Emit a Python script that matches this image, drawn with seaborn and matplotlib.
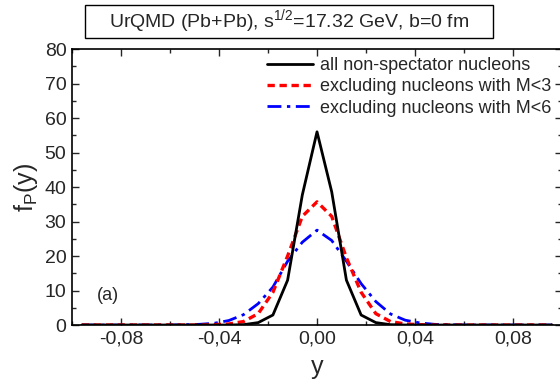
import matplotlib
matplotlib.use("Agg")
import matplotlib.pyplot as plt
from matplotlib.patches import Rectangle
from matplotlib.ticker import MultipleLocator, FuncFormatter
import seaborn as sns
import pandas as pd

# rapidity grid and distributions
y_vals = [-0.096, -0.090, -0.084, -0.078, -0.072, -0.066, -0.060, -0.054, -0.048,
          -0.042, -0.036, -0.030, -0.024, -0.018, -0.012, -0.006, 0.000,
          0.006, 0.012, 0.018, 0.024, 0.030, 0.036, 0.042, 0.048,
          0.054, 0.060, 0.066, 0.072, 0.078, 0.084, 0.090, 0.096]
f_all = [0, 0, 0, 0, 0, 0, 0, 0, 0,
         0, 0, 0.1, 0.7, 2.9, 13.0, 37.7, 56.0,
         38.6, 13.0, 2.9, 0.7, 0.1, 0, 0, 0,
         0, 0, 0, 0, 0, 0, 0, 0]
f_m3 = [0, 0, 0, 0, 0, 0, 0, 0, 0,
        0.1, 0.3, 1.0, 3.3, 9.5, 20.0, 31.5, 35.7,
        31.5, 19.5, 9.5, 3.3, 1.0, 0.3, 0.1, 0,
        0, 0, 0, 0, 0, 0, 0, 0]
f_m6 = [0, 0, 0, 0, 0, 0, 0, 0.1, 0.2,
        0.5, 1.3, 3.0, 6.2, 11.0, 18.5, 24.0, 27.5,
        24.5, 18.5, 12.0, 6.8, 3.2, 1.4, 0.6, 0.2,
        0.1, 0, 0, 0, 0, 0, 0, 0]
labels = ["all non-spectator nucleons",
          "excluding nucleons with M<3",
          "excluding nucleons with M<6"]

df = pd.DataFrame({"y": y_vals, "all": f_all, "m3": f_m3, "m6": f_m6})

sns.set_style("ticks")
plt.rcParams["font.family"] = ["Liberation Sans", "DejaVu Sans"]

fig = plt.figure(figsize=(5.6, 3.8), dpi=100)
ax = fig.add_axes([0.1286, 0.1447, 0.875, 0.7263])

sns.lineplot(data=df, x="y", y="m6", ax=ax, color="#0000ff", lw=2,
             linestyle=(0, (5, 2, 1.2, 2)), zorder=2)
sns.lineplot(data=df, x="y", y="m3", ax=ax, color="#ff0000", lw=2.4,
             linestyle=(0, (2.2, 1.4)), zorder=3)
sns.lineplot(data=df, x="y", y="all", ax=ax, color="black", lw=2, zorder=4)

lines = ax.get_lines()
handles = [lines[2], lines[1], lines[0]]
ax.legend(handles, labels, loc="upper right", bbox_to_anchor=(1.0, 1.01),
          frameon=False, fontsize=13, handlelength=2.5, handletextpad=0.4,
          labelspacing=0.24, borderaxespad=0.2)

ax.set_xlim(-0.1, 0.1)
ax.set_ylim(0, 80)
ax.xaxis.set_major_locator(MultipleLocator(0.04))
ax.xaxis.set_minor_locator(MultipleLocator(0.02))
ax.yaxis.set_major_locator(MultipleLocator(10))
ax.yaxis.set_minor_locator(MultipleLocator(5))
ax.xaxis.set_major_formatter(FuncFormatter(lambda v, p: f"{v:.2f}".replace(".", ",").replace("-0,00", "0,00")))
ax.tick_params(which="both", direction="in", top=True, right=True, labelsize=14)
ax.tick_params(which="major", length=5, width=1, pad=4)
ax.tick_params(which="minor", length=3, width=1)
for s in ax.spines.values():
    s.set_linewidth(1.2)
    s.set_color("black")

ax.set_xlabel("y", fontsize=18, labelpad=5)
ax.set_ylabel(r"f$_{\mathregular{P}}$(y)", fontsize=18, labelpad=3)
ax.text(0.051, 0.09, "(a)", transform=ax.transAxes, fontsize=13)

fig.patches.append(Rectangle((0.1518, 0.9), 0.7286, 0.0868, transform=fig.transFigure,
                             fc="white", ec="black", lw=1))
fig.text(0.516, 0.942, r"UrQMD (Pb+Pb), s$^{\mathregular{1/2}}$=17.32 GeV, b=0 fm",
         ha="center", va="center", fontsize=14)

fig.savefig("out.png", dpi=100)
